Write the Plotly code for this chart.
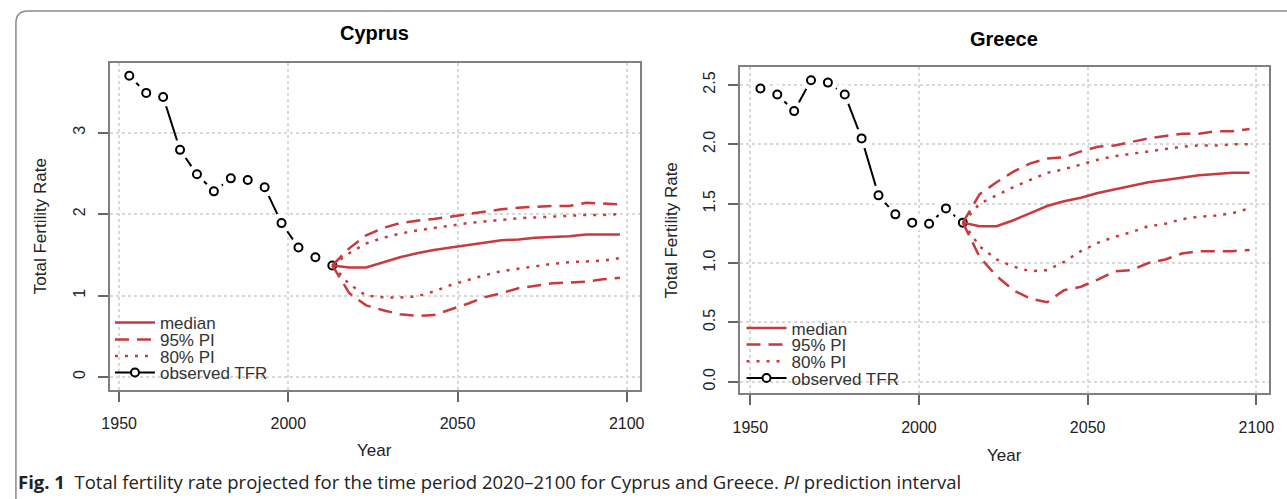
import plotly.graph_objects as go

# ---------------- data ----------------
years_obs = [1953, 1958, 1963, 1968, 1973, 1978, 1983, 1988, 1993, 1998, 2003, 2008, 2013]
years_proj = [2013, 2018, 2023, 2028, 2033, 2038, 2043, 2048, 2053, 2058, 2063, 2068,
              2073, 2078, 2083, 2088, 2093, 2098]

cy_obs = [3.70, 3.49, 3.44, 2.79, 2.49, 2.28, 2.44, 2.42, 2.33, 1.89, 1.59, 1.47, 1.37]
cy_median = [1.37, 1.345, 1.345, 1.41, 1.47, 1.52, 1.56, 1.59, 1.62, 1.65, 1.68, 1.69,
             1.71, 1.72, 1.73, 1.75, 1.75, 1.75]
cy_u95 = [1.37, 1.58, 1.74, 1.83, 1.89, 1.92, 1.94, 1.97, 2.00, 2.03, 2.06, 2.08,
          2.09, 2.10, 2.10, 2.14, 2.13, 2.12]
cy_l95 = [1.37, 1.03, 0.88, 0.82, 0.77, 0.75, 0.76, 0.83, 0.90, 0.98, 1.03, 1.09,
          1.12, 1.15, 1.16, 1.17, 1.20, 1.22]
cy_u80 = [1.37, 1.52, 1.64, 1.71, 1.76, 1.80, 1.83, 1.86, 1.89, 1.91, 1.93, 1.95,
          1.96, 1.97, 1.98, 1.99, 1.99, 2.00]
cy_l80 = [1.37, 1.14, 1.00, 0.98, 0.975, 0.99, 1.05, 1.13, 1.19, 1.25, 1.30, 1.33,
          1.36, 1.39, 1.41, 1.42, 1.43, 1.46]

gr_obs = [2.47, 2.42, 2.28, 2.54, 2.52, 2.42, 2.05, 1.57, 1.41, 1.34, 1.33, 1.46, 1.34]
gr_median = [1.34, 1.31, 1.31, 1.36, 1.42, 1.48, 1.52, 1.55, 1.59, 1.62, 1.65, 1.68,
             1.70, 1.72, 1.74, 1.75, 1.76, 1.76]
gr_u95 = [1.34, 1.58, 1.68, 1.77, 1.84, 1.88, 1.89, 1.94, 1.98, 1.99, 2.02, 2.05,
          2.07, 2.09, 2.09, 2.11, 2.11, 2.13]
gr_l95 = [1.34, 1.05, 0.89, 0.77, 0.70, 0.67, 0.77, 0.80, 0.86, 0.93, 0.94, 1.00,
          1.03, 1.08, 1.10, 1.10, 1.10, 1.11]
gr_u80 = [1.34, 1.50, 1.57, 1.64, 1.70, 1.76, 1.79, 1.83, 1.87, 1.90, 1.92, 1.94,
          1.96, 1.98, 1.99, 1.99, 2.00, 2.00]
gr_l80 = [1.34, 1.14, 1.03, 0.97, 0.93, 0.94, 1.01, 1.10, 1.17, 1.22, 1.26, 1.31,
          1.33, 1.37, 1.39, 1.40, 1.42, 1.46]

x_ticks = [1950, 2000, 2050, 2100]
cy_y_ticks = [0, 1, 2, 3]
gr_y_ticks = [0.0, 0.5, 1.0, 1.5, 2.0, 2.5]
legend_labels = ["median", "95% PI", "80% PI", "observed TFR"]

# ---------------- styling ----------------
W, H = 1287, 499
RED = "#c83a3e"
FONT = "Liberation Sans, Arial, sans-serif"
TXT = "#222222"


def px(x):
    return x / W


def py(y):
    return 1 - y / H


fig = go.Figure()


def add_country(xa, ya, obs, med, u95, l95, u80, l80, legs):
    # observed TFR (R type="b" look: line with gaps around open circles)
    fig.add_trace(go.Scatter(
        x=years_obs, y=obs, mode="lines+markers", xaxis=xa, yaxis=ya,
        line=dict(color="black", width=2),
        marker=dict(symbol="circle", size=8, color="white",
                    line=dict(color="black", width=2)),
        name=legend_labels[3], legend=legs[3]))
    fig.add_trace(go.Scatter(
        x=years_obs, y=obs, mode="markers", xaxis=xa, yaxis=ya,
        marker=dict(symbol="circle", size=20, color="white",
                    line=dict(width=0)),
        showlegend=False, hoverinfo="skip"))
    fig.add_trace(go.Scatter(
        x=years_obs, y=obs, mode="markers", xaxis=xa, yaxis=ya,
        marker=dict(symbol="circle", size=8, color="white",
                    line=dict(color="black", width=2)),
        showlegend=False))
    # projections
    fig.add_trace(go.Scatter(
        x=years_proj, y=u95, mode="lines", xaxis=xa, yaxis=ya,
        line=dict(color=RED, width=2.5, dash="14px,8px"),
        name=legend_labels[1], legend=legs[1], legendgroup=legs[1]))
    fig.add_trace(go.Scatter(
        x=years_proj, y=l95, mode="lines", xaxis=xa, yaxis=ya,
        line=dict(color=RED, width=2.5, dash="14px,8px"),
        showlegend=False, legendgroup=legs[1]))
    fig.add_trace(go.Scatter(
        x=years_proj, y=u80, mode="lines", xaxis=xa, yaxis=ya,
        line=dict(color=RED, width=2.5, dash="3px,7px"),
        name=legend_labels[2], legend=legs[2], legendgroup=legs[2]))
    fig.add_trace(go.Scatter(
        x=years_proj, y=l80, mode="lines", xaxis=xa, yaxis=ya,
        line=dict(color=RED, width=2.5, dash="3px,7px"),
        showlegend=False, legendgroup=legs[2]))
    fig.add_trace(go.Scatter(
        x=years_proj, y=med, mode="lines", xaxis=xa, yaxis=ya,
        line=dict(color=RED, width=2.5),
        name=legend_labels[0], legend=legs[0]))


add_country("x", "y", cy_obs, cy_median, cy_u95, cy_l95, cy_u80, cy_l80,
            ["legend", "legend2", "legend3", "legend4"])
add_country("x2", "y2", gr_obs, gr_median, gr_u95, gr_l95, gr_u80, gr_l80,
            ["legend5", "legend6", "legend7", "legend8"])

axis_common = dict(
    showline=True, mirror=True, linecolor="#808080", linewidth=2,
    ticks="outside", ticklen=10, tickwidth=1.5, tickcolor="#666666",
    showgrid=True, gridcolor="#d8d8d8", griddash="dot", gridwidth=1.5,
    zeroline=False, tickfont=dict(family=FONT, size=16, color=TXT),
)

fig.update_layout(
    width=W, height=H, margin=dict(l=0, r=0, t=0, b=0),
    paper_bgcolor="white", plot_bgcolor="white",
    xaxis=dict(domain=[px(102.7), px(638)], range=[1947.2, 2103.8],
               tickvals=x_ticks, ticklabelstandoff=8, anchor="y", **axis_common),
    yaxis=dict(domain=[py(390), py(63)], range=[-0.16, 3.857],
               tickvals=cy_y_ticks, tickangle=-90, ticklabelstandoff=6,
               anchor="x", **axis_common),
    xaxis2=dict(domain=[px(739.3), px(1274)], range=[1946.9, 2103.8],
                tickvals=x_ticks, ticklabelstandoff=8, anchor="y2", **axis_common),
    yaxis2=dict(domain=[py(393.3), py(67.3)], range=[-0.098, 2.649],
                tickvals=gr_y_ticks, tickformat=".1f", tickangle=-90,
                ticklabelstandoff=6, anchor="x2", **axis_common),
    showlegend=True,
)

# one legend per entry so the spacing can follow the reference
leg_font = dict(family=FONT, size=17, color="#333333")
cy_leg_y = [323, 340, 356.5, 373]
gr_leg_y = [328.4, 345, 361.6, 378.4]
for i, yy in enumerate(cy_leg_y):
    key = "legend" if i == 0 else f"legend{i + 1}"
    fig.update_layout({key: dict(x=px(103), y=py(yy), xanchor="left", yanchor="middle",
                                 bgcolor="rgba(0,0,0,0)", borderwidth=0,
                                 font=leg_font, itemwidth=40)})
for i, yy in enumerate(gr_leg_y):
    key = f"legend{i + 5}"
    fig.update_layout({key: dict(x=px(741), y=py(yy), xanchor="left", yanchor="middle",
                                 bgcolor="rgba(0,0,0,0)", borderwidth=0,
                                 font=leg_font, itemwidth=40)})

annotations = [
    dict(text="Cyprus", x=px(370), y=py(33), font=dict(family=FONT, size=20, color="black", weight="bold")),
    dict(text="Greece", x=px(1006.6), y=py(39), font=dict(family=FONT, size=20, color="black", weight="bold")),
    dict(text="Year", x=px(370), y=py(450), font=dict(family=FONT, size=17, color=TXT)),
    dict(text="Year", x=px(1006.6), y=py(455), font=dict(family=FONT, size=17, color=TXT)),
    dict(text="Total Fertility Rate", x=px(33), y=py(226.5), textangle=-90,
         font=dict(family=FONT, size=17, color=TXT)),
    dict(text="Total Fertility Rate", x=px(670), y=py(230), textangle=-90,
         font=dict(family=FONT, size=17, color=TXT)),
]
for a in annotations:
    a.update(xref="paper", yref="paper", showarrow=False, xanchor="center", yanchor="middle")
fig.update_layout(annotations=annotations)

fig.add_annotation(
    text="<b>Fig. 1</b>  Total fertility rate projected for the time period 2020–2100 for Cyprus and Greece. <i>PI</i> prediction interval",
    xref="paper", yref="paper", x=px(8), y=py(481), xanchor="left", yanchor="middle",
    showarrow=False, font=dict(family="Open Sans, sans-serif", size=18.5, color="#222222"))

# figure frame with rounded top-left corner
fig.add_shape(type="path", xref="paper", yref="paper",
              path=f"M {px(1295)},{py(11)} L {px(20)},{py(11)} Q {px(8)},{py(11)} {px(8)},{py(23)} L {px(8)},{py(505)}",
              line=dict(color="#8a8a8a", width=1.5))

fig.write_html("out.html", config={"displayModeBar": False},
               post_script="document.body.style.margin='0px';")
